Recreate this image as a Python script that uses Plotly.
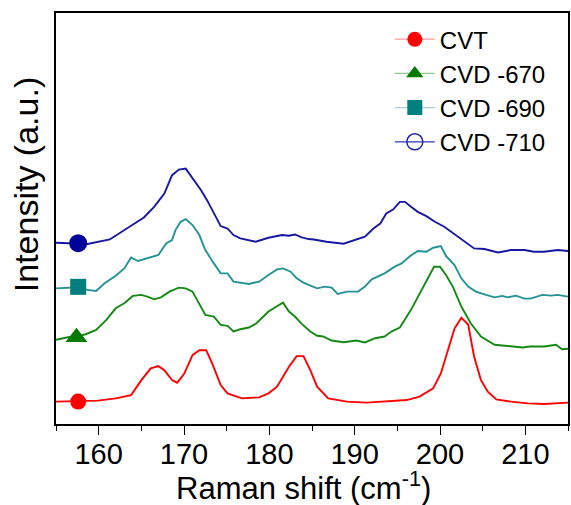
import plotly.graph_objects as go

# ---- data (Raman shift in cm^-1, intensity in a.u., curves offset) ----
cvt_x = [155.0, 157.6, 159.9, 162.0, 163.8, 165.0, 166.1, 167.0, 167.7, 168.6, 169.2, 170.0,
         171.0, 171.8, 172.6, 173.3, 174.3, 175.1, 176.8, 178.8, 179.9, 180.9, 182.3, 183.2,
         184.0, 184.8, 185.6, 186.9, 189.1, 191.4, 193.7, 196.1, 197.6, 199.2, 200.1, 200.9,
         201.7, 202.5, 203.3, 204.0, 204.8, 205.6, 206.6, 208.3, 210.3, 212.2, 213.8, 215.0]
cvt_y = [22.4, 22.6, 23.4, 25.7, 29.0, 44.0, 55.7, 58.0, 54.0, 44.0, 41.4, 50.0,
         69.0, 74.0, 74.0, 60.7, 39.0, 30.7, 25.7, 26.7, 30.7, 37.4, 57.4, 68.0,
         68.0, 54.0, 37.4, 25.7, 22.4, 21.4, 22.4, 24.0, 27.4, 35.7, 50.7, 72.4,
         95.7, 106.4, 99.7, 67.4, 44.0, 32.4, 24.7, 22.4, 20.7, 20.0, 20.7, 21.4]

c670_x = [155.0, 156.4, 157.4, 158.5, 159.7, 160.9, 162.0, 163.0, 164.0, 165.0, 165.7, 166.5,
          167.3, 168.3, 169.4, 170.2, 171.0, 171.8, 172.5, 173.5, 174.3, 175.1, 175.8, 176.6,
          177.6, 178.5, 179.9, 180.7, 181.6, 182.3, 183.0, 183.8, 184.8, 185.6, 186.3, 187.3,
          188.7, 190.2, 191.2, 192.4, 193.5, 194.3, 195.3, 196.6, 197.6, 198.4, 199.3, 200.0,
          200.7, 201.5, 202.5, 203.6, 204.8, 206.4, 207.9, 209.7, 210.5, 212.2, 213.6, 214.3, 215.0]
c670_y = [84.4, 87.0, 88.0, 90.0, 94.4, 104.4, 116.0, 121.0, 128.4, 129.4, 127.7, 125.0,
          127.0, 132.7, 136.7, 136.0, 132.7, 120.4, 109.4, 107.7, 99.4, 98.4, 92.7, 95.0,
          96.7, 101.0, 112.7, 117.0, 121.7, 112.7, 107.7, 100.4, 92.7, 88.4, 87.7, 83.7,
          82.0, 83.7, 81.7, 86.0, 87.7, 92.7, 96.7, 114.4, 131.0, 142.7, 157.7, 157.7,
          149.4, 137.7, 117.7, 101.0, 87.7, 79.4, 78.4, 76.7, 77.7, 77.7, 79.4, 75.0, 75.4]

c690_x = [155.0, 157.6, 158.7, 159.7, 160.7, 162.0, 163.0, 163.8, 164.6, 165.7, 167.0, 167.9,
          168.6, 169.0, 169.6, 170.2, 171.0, 171.8, 172.5, 173.5, 174.3, 175.1, 175.8, 177.6,
          178.8, 179.9, 180.9, 181.6, 182.5, 183.2, 184.0, 184.6, 185.6, 186.5, 187.3, 188.0,
          189.1, 190.4, 191.2, 192.0, 193.5, 194.7, 195.5, 196.5, 197.4, 198.4, 199.2, 200.1,
          200.7, 201.7, 202.5, 203.3, 204.2, 205.4, 206.4, 207.3, 207.9, 208.9, 209.9, 210.6,
          212.0, 213.0, 213.8, 215.0]
c690_y = [136.0, 137.0, 134.4, 133.4, 141.0, 148.7, 156.0, 167.0, 163.4, 166.0, 169.4, 181.0,
          184.4, 194.4, 202.7, 205.4, 199.4, 189.4, 174.4, 161.0, 151.0, 151.0, 142.7, 140.4,
          142.7, 149.4, 155.0, 156.0, 152.7, 146.0, 141.7, 139.4, 136.0, 137.7, 136.7, 130.4,
          132.7, 132.7, 137.7, 145.0, 151.0, 157.7, 161.0, 168.4, 173.4, 172.7, 176.7, 178.4,
          168.4, 159.4, 146.0, 137.7, 132.7, 129.4, 127.0, 128.4, 127.0, 128.7, 125.7, 125.7,
          129.4, 128.7, 129.4, 127.7]

c710_x = [155.0, 157.6, 158.7, 161.3, 163.0, 164.2, 165.3, 166.5, 167.7, 168.6, 169.4, 170.2,
          171.2, 172.0, 172.7, 173.5, 174.3, 175.1, 175.8, 176.6, 178.4, 179.9, 181.5, 182.3,
          183.0, 183.8, 184.6, 185.2, 186.7, 188.7, 189.8, 191.2, 192.2, 193.0, 193.7, 194.5,
          195.3, 195.9, 196.6, 197.4, 198.4, 199.4, 200.5, 202.1, 204.0, 205.2, 206.8, 208.3,
          209.9, 211.0, 212.2, 213.8, 215.0]
c710_y = [181.7, 181.0, 180.4, 185.0, 194.4, 200.4, 207.0, 217.6, 231.0, 249.4, 255.0, 256.0,
          244.4, 234.4, 224.4, 211.0, 198.4, 196.0, 189.4, 186.0, 182.7, 186.7, 189.4, 188.7,
          190.0, 187.0, 185.4, 185.0, 182.7, 180.7, 183.7, 187.7, 196.0, 201.0, 211.0, 215.0,
          222.7, 222.7, 217.7, 212.7, 208.4, 202.7, 197.7, 187.7, 176.0, 175.4, 172.0, 174.4,
          174.4, 172.7, 172.7, 174.4, 173.4]

names = ["CVT", "CVD -670", "CVD -690", "CVD -710"]
marker_x = [157.6, 157.4, 157.6, 157.6]
marker_y = [22.5, 87.0, 137.5, 181.3]
x_ticks = [160, 170, 180, 190, 200, 210]
x_title = "Raman shift (cm<sup>-1</sup>)"
y_title = "Intensity (a.u.)"

series = [(cvt_x, cvt_y), (c670_x, c670_y), (c690_x, c690_y), (c710_x, c710_y)]
line_colors = ["#FF0000", "#138A13", "#239393", "#1717A3"]
marker_colors = ["#FF0000", "#007A00", "#007F7F", "#00009A"]
marker_symbols = ["circle", "triangle-up", "square", "circle"]
marker_sizes = [16, 19, 16, 18]
legend_line_colors = ["#FF9A9A", "#90C890", "#A0D0D0", "#3535C0"]

fig = go.Figure()
for i, (xs, ys) in enumerate(series):
    fig.add_trace(go.Scatter(x=xs, y=ys, mode="lines", showlegend=False,
                             line=dict(color=line_colors[i], width=1.9)))
    fig.add_trace(go.Scatter(x=[marker_x[i]], y=[marker_y[i]], mode="markers", showlegend=False,
                             marker=dict(symbol=marker_symbols[i], size=marker_sizes[i],
                                         color=marker_colors[i], line=dict(width=0))))

for i in range(4):
    if i == 3:
        mk = dict(symbol="circle-open", size=16, color="#2222AA", line=dict(width=1.5))
    else:
        mk = dict(symbol=marker_symbols[i], size=15, color=marker_colors[i], line=dict(width=0))
    fig.add_trace(go.Scatter(x=[None], y=[None], mode="lines+markers", name=names[i],
                             line=dict(color=legend_line_colors[i], width=1.2), marker=mk))

font_family = "Liberation Sans, Arial, sans-serif"
fig.update_layout(
    width=571, height=505,
    margin=dict(l=56, r=1, t=13, b=81),
    paper_bgcolor="white", plot_bgcolor="white",
    font=dict(family=font_family, color="black"),
    showlegend=True,
    legend=dict(x=0.652, y=0.99, xanchor="left", yanchor="top",
                font=dict(size=24, family=font_family, color="black"),
                bgcolor="rgba(255,255,255,0)", borderwidth=0,
                itemwidth=40, tracegroupgap=0),
    xaxis=dict(range=[155, 215], tickvals=x_ticks, ticks="outside", ticklen=9, tickwidth=1.2,
               tickcolor="black", showline=True, linecolor="black", linewidth=1.5, mirror=True,
               showgrid=False, zeroline=False, ticklabelstandoff=-6,
               tickfont=dict(size=29, family=font_family),
               minor=dict(dtick=5, ticks="outside", ticklen=5, tickcolor="black", tickwidth=1.2)),
    yaxis=dict(range=[0, 412], showticklabels=False, ticks="", showline=True, linecolor="black",
               linewidth=1.5, mirror=True, showgrid=False, zeroline=False),
    annotations=[
        dict(text=x_title, xref="paper", yref="paper", x=0.484, y=-0.152,
             xanchor="center", yanchor="middle", showarrow=False,
             font=dict(size=31, family=font_family, color="black")),
        dict(text=y_title, xref="paper", yref="paper", x=-0.057, y=0.583,
             xanchor="center", yanchor="middle", textangle=-90, showarrow=False,
             font=dict(size=34, family=font_family, color="black")),
    ],
)

fig.write_html("out.html")
